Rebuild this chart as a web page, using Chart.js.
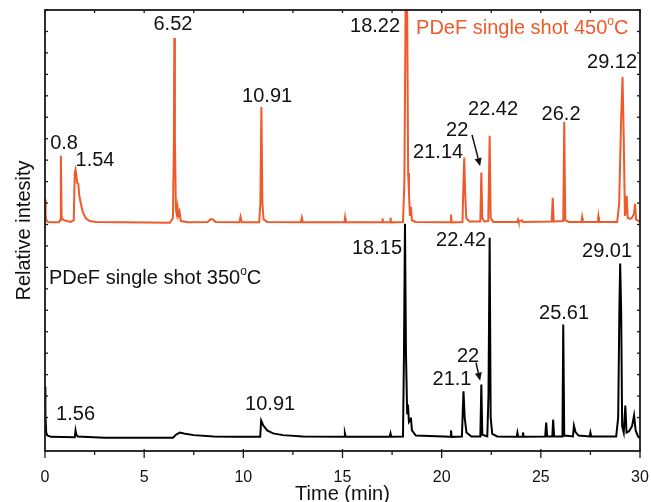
<!DOCTYPE html>
<html><head><meta charset="utf-8">
<script src="https://cdn.jsdelivr.net/npm/chart.js@4.4.1/dist/chart.umd.min.js"></script>
<style>html,body{margin:0;padding:0;background:#fff;}canvas{display:block;}</style>
</head><body>
<canvas id="c" width="651" height="502"></canvas>
<script>
// ---- data: PDeF single shot 450 °C (trace drawn offset upward, values as read) ----
const time450 = [0.00,0.03,0.08,0.15,0.70,0.76,0.80,0.84,0.95,1.10,1.30,1.45,1.50,1.54,1.58,1.62,1.68,1.72,1.80,1.90,2.05,2.25,2.60,4.00,6.30,6.45,6.50,6.52,6.55,6.60,6.64,6.68,6.72,6.78,6.85,7.20,8.20,8.35,8.45,8.60,9.80,9.86,9.92,10.80,10.86,10.91,10.96,11.02,11.20,12.90,12.95,13.00,15.10,15.13,15.16,17.00,17.02,17.05,17.40,17.42,17.45,18.05,18.12,18.18,18.22,18.26,18.31,18.35,18.40,18.45,18.50,18.70,20.44,20.47,20.50,21.05,21.10,21.14,21.18,21.24,21.40,21.95,22.00,22.05,22.15,22.35,22.42,22.47,22.60,23.82,23.85,23.88,24.05,24.10,25.55,25.60,25.65,26.13,26.18,26.23,26.40,27.05,27.08,27.11,27.87,27.90,27.93,28.85,28.95,29.05,29.12,29.18,29.24,29.28,29.33,29.38,29.50,29.60,29.70,29.75,29.80,30.00];
const signal450 = [55.8,52.0,50.9,50.6,50.5,51.0,66.0,51.5,51.0,50.8,50.6,51.0,62.0,62.8,61.5,59.7,59.5,57.0,55.0,53.0,51.5,50.8,50.6,50.5,50.4,51.5,70.0,93.5,70.0,53.4,52.5,54.0,52.0,53.0,50.8,50.5,50.6,51.2,51.2,50.6,50.5,51.8,50.5,50.5,55.0,77.4,55.0,51.2,50.6,50.5,51.6,50.5,50.5,51.6,50.5,50.5,51.4,50.5,50.5,51.6,50.5,50.6,60.0,100.0,101.0,100.0,62.0,57.4,52.0,54.1,51.0,50.6,50.5,52.3,50.5,50.6,60.0,65.6,58.0,51.5,50.7,50.7,62.1,51.5,50.7,50.8,70.7,51.5,50.6,50.6,51.1,50.6,51.0,50.6,50.7,56.2,50.7,50.8,73.9,51.0,50.6,50.6,51.6,50.6,50.6,51.8,50.6,50.6,55.0,75.0,84.4,70.0,52.0,53.0,56.7,51.5,51.3,51.6,52.5,54.8,51.2,50.6];

// ---- data: PDeF single shot 350 °C ----
const time350 = [0.00,0.02,0.06,0.12,0.30,1.50,1.54,1.58,1.65,3.00,6.45,6.60,6.80,7.00,7.50,8.50,9.50,10.85,10.90,11.00,11.20,11.50,12.00,13.00,15.08,15.12,15.16,17.38,17.42,17.46,18.05,18.10,18.15,18.20,18.26,18.30,18.35,18.42,18.45,18.50,18.70,20.44,20.47,20.50,21.02,21.10,21.16,21.25,21.50,21.95,22.00,22.05,22.30,22.36,22.42,22.47,22.55,22.80,23.78,23.82,23.86,24.06,24.10,24.14,25.22,25.27,25.32,25.58,25.62,25.67,26.09,26.13,26.18,26.62,26.67,26.75,26.90,27.46,27.50,27.54,28.80,28.90,28.96,29.00,29.05,29.10,29.18,29.26,29.32,29.45,29.60,29.70,29.78,29.90,30.00];
const signal350 = [12.2,6.0,1.5,0.8,0.5,0.4,2.0,1.0,0.6,0.3,0.3,1.0,1.5,1.3,0.9,0.6,0.5,0.5,4.3,3.2,2.0,1.3,0.9,0.6,0.5,1.3,0.5,0.5,1.3,0.5,0.6,20.0,50.2,20.0,6.0,8.0,4.0,4.5,5.0,2.0,0.8,0.5,2.0,0.5,0.6,11.1,5.0,1.5,0.6,0.6,12.7,1.0,0.6,10.0,46.9,5.0,1.2,0.6,0.5,1.5,0.5,0.5,1.5,0.5,0.6,3.8,0.6,0.6,4.5,0.6,0.6,26.7,0.8,0.6,3.1,1.6,0.8,0.6,1.5,0.6,0.6,5.0,30.0,40.9,30.0,3.0,1.5,7.8,1.5,1.8,3.0,5.5,2.0,0.6,0.2];

// ---- axis ----
const xTickLabels = ['0','5','10','15','20','25','30'];
const xTitle = 'Time (min)';
const yTitle = 'Relative intesity';

// ---- peak annotations (text, time, value of label centre) ----
const labelText450 = ['0.8','1.54','6.52','10.91','18.22','22.42','26.2','22','21.14','29.12'];
const labelTime450 = [0.96,2.52,6.45,11.2,16.64,22.59,26.02,20.78,19.82,28.59];
const labelVal450  = [69.0,64.9,96.6,79.8,96.1,76.7,75.6,71.8,66.7,87.7];
const labelText350 = ['1.56','10.91','18.15','22.42','29.01','25.61','22','21.1'];
const labelTime350 = [1.54,11.35,16.74,20.98,28.34,26.17,21.33,20.52];
const labelVal350  = [5.7,8.0,44.4,46.2,43.7,29.2,19.2,13.85];
// arrows: [t0, v0, t1, v1]
const arrows = [[21.53,70.9,21.94,63.6],[21.73,17.8,21.94,13.6]];
// series names (left-anchored): text, time, value
const seriesNames = ['PDeF single shot 450','PDeF single shot 350'];
const seriesNameTime = [18.71,0.2];
const seriesNameVal = [95.6,37.4];

const ORANGE = '#F0592A';
const INK = '#1a1a1a';
const FONT = "'Liberation Sans', Arial, sans-serif";

const pts = (t, v) => t.map((x, i) => ({x, y: v[i]}));

const annot = {
  id: 'annot',
  afterDatasetsDraw(chart) {
    const {ctx, scales: {x, y}} = chart;
    ctx.save();
    ctx.font = '20px ' + FONT;
    ctx.textAlign = 'center';
    ctx.textBaseline = 'middle';
    ctx.fillStyle = '#111';
    labelText450.forEach((s, i) => ctx.fillText(s, x.getPixelForValue(labelTime450[i]), y.getPixelForValue(labelVal450[i])));
    labelText350.forEach((s, i) => ctx.fillText(s, x.getPixelForValue(labelTime350[i]), y.getPixelForValue(labelVal350[i])));
    seriesNames.forEach((s, i) => {
      ctx.fillStyle = i === 0 ? ORANGE : '#111';
      let px = x.getPixelForValue(seriesNameTime[i]);
      const py = y.getPixelForValue(seriesNameVal[i]);
      ctx.textAlign = 'left';
      ctx.font = '20px ' + FONT;
      ctx.fillText(s, px, py);
      px += ctx.measureText(s).width;
      ctx.font = '12px ' + FONT;
      ctx.fillText('o', px, py - 7);
      px += ctx.measureText('o').width;
      ctx.font = '20px ' + FONT;
      ctx.fillText('C', px, py);
    });
    ctx.strokeStyle = '#111'; ctx.fillStyle = '#111'; ctx.lineWidth = 1.5;
    arrows.forEach(a => {
      const x0 = x.getPixelForValue(a[0]), y0 = y.getPixelForValue(a[1]);
      const x1 = x.getPixelForValue(a[2]), y1 = y.getPixelForValue(a[3]);
      const ang = Math.atan2(y1 - y0, x1 - x0), L = 8, W = 3.5;
      const bx = x1 - L * Math.cos(ang), by = y1 - L * Math.sin(ang);
      ctx.beginPath(); ctx.moveTo(x0, y0); ctx.lineTo(bx, by); ctx.stroke();
      ctx.beginPath();
      ctx.moveTo(x1, y1);
      ctx.lineTo(bx + W * Math.sin(ang), by - W * Math.cos(ang));
      ctx.lineTo(bx - W * Math.sin(ang), by + W * Math.cos(ang));
      ctx.closePath(); ctx.fill();
    });
    ctx.restore();
  }
};

const frame = {
  id: 'frame',
  afterDraw(chart) {
    const {ctx, chartArea: a, scales: {x, y}} = chart;
    ctx.save();
    ctx.strokeStyle = INK;
    const seg = (x0, y0, x1, y1) => { ctx.beginPath(); ctx.moveTo(x0, y0); ctx.lineTo(x1, y1); ctx.stroke(); };
    ctx.lineWidth = 1.3;
    x.ticks.forEach(t => {
      const px = x.getPixelForValue(t.value);
      const major = Math.abs(t.value % 5) < 1e-6;
      seg(px, a.bottom - (major ? 2 : 0), px, a.bottom + (major ? 7 : 4));
      seg(px, a.top, px, a.top + 3);
    });
    y.ticks.forEach(t => {
      if (Math.abs(t.value % 5) > 1e-6) return;
      const py = y.getPixelForValue(t.value);
      seg(a.left, py, a.left + 3, py);
      seg(a.right, py, a.right - 3, py);
    });
    ctx.lineWidth = 1.8;
    ctx.strokeRect(a.left, a.top, a.right - a.left, a.bottom - a.top);
    ctx.restore();
  }
};

new Chart(document.getElementById('c'), {
  type: 'scatter',
  data: {
    datasets: [
      {data: pts(time350, signal350), showLine: true, borderColor: '#000', borderWidth: 2, pointRadius: 0, tension: 0},
      {data: pts(time450, signal450), showLine: true, borderColor: ORANGE, borderWidth: 2, pointRadius: 0, tension: 0}
    ]
  },
  options: {
    responsive: false,
    devicePixelRatio: 1,
    animation: false,
    events: [],
    layout: {padding: {top: 10, right: 11, left: 0, bottom: 0}},
    plugins: {legend: {display: false}, tooltip: {enabled: false}},
    scales: {
      x: {
        type: 'linear', min: 0, max: 30,
        afterFit: s => { s.height = 51; s.paddingLeft = 0; s.paddingRight = 0; },
        grid: {display: false, drawTicks: false},
        border: {display: false},
        ticks: {
          stepSize: 2.5, autoSkip: false, maxRotation: 0, padding: 17,
          color: '#111', font: {size: 16, family: FONT},
          callback: v => (Math.abs(v % 5) < 1e-6 ? xTickLabels[Math.round(v / 5)] : '')
        },
        title: {display: true, text: xTitle, color: '#111', font: {size: 20, family: FONT, lineHeight: 1}, padding: {top: 0, bottom: -2}}
      },
      y: {
        type: 'linear', min: -2.8, max: 100,
        afterFit: s => { s.width = 45; s.paddingTop = 0; s.paddingBottom = 0; },
        grid: {display: false, drawTicks: false},
        border: {display: false},
        ticks: {display: false, stepSize: 5},
        title: {display: true, text: yTitle, color: '#111', font: {size: 20, family: FONT, lineHeight: 1}, padding: {top: 14, bottom: 0}}
      }
    }
  },
  plugins: [annot, frame]
});
</script>
</body></html>
